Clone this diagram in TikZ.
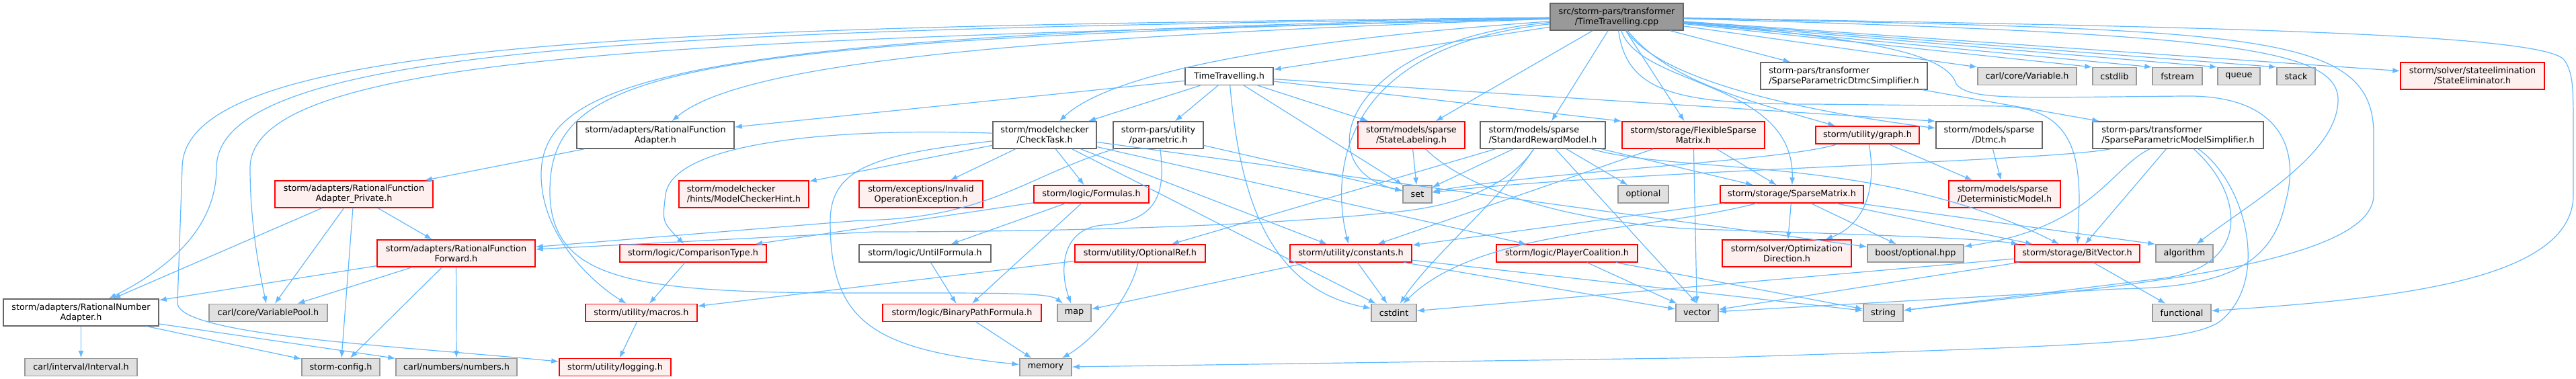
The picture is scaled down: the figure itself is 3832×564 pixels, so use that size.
\documentclass[tikz,border=0pt]{standalone}
\usepackage{fontspec}
\setmainfont{DejaVu Sans}
\usetikzlibrary{arrows.meta}

\definecolor{edgeblue}{HTML}{63B8FF}
\definecolor{truncline}{HTML}{FF0000}
\definecolor{truncfill}{HTML}{FFF0F0}
\definecolor{sysfill}{HTML}{E0E0E0}
\definecolor{sysline}{HTML}{999999}
\definecolor{fileline}{HTML}{666666}
\definecolor{rootfill}{HTML}{999999}

\tikzset{
    box/.style={draw=fileline, fill=white, line width=1.4pt, inner sep=0pt,
        minimum height=26pt, align=center, font=\fontsize{12.8}{15}\selectfont},
    twoline/.style={minimum height=40pt},
    rootbox/.style={box, fill=rootfill},
    redbox/.style={box, draw=truncline, fill=truncfill},
    sysbox/.style={box, draw=sysline, fill=sysfill},
    incl/.style={->, draw=edgeblue, line width=1.2pt},
    >={Latex[length=11pt, width=8pt]},
}

\begin{document}
\begin{tikzpicture}[x=1pt, y=-1pt]
    \useasboundingbox (0, 0) rectangle (3832, 564);

    \node[rootbox, twoline, minimum width=198pt] at (2405, 25) (root) {src/storm-pars/transformer\\/TimeTravelling.cpp};

    \node[box, minimum width=131pt] at (1828.5, 113.5) (tt) {TimeTravelling.h};
    \node[box, twoline, minimum width=248pt, align=left] at (2743, 113) (spds) {storm-pars/transformer\\/SparseParametricDtmcSimplifier.h};
    \node[sysbox, minimum width=147pt] at (3015.5, 113.5) (carlvar) {carl/core/Variable.h};
    \node[sysbox, minimum width=65pt] at (3145.5, 113.5) (cstdlib) {cstdlib};
    \node[sysbox, minimum width=74pt] at (3239, 113.5) (fstream) {fstream};
    \node[sysbox, minimum width=63pt] at (3330.5, 113.5) (queue) {queue};
    \node[sysbox, minimum width=57pt] at (3415.5, 113.5) (stack) {stack};
    \node[redbox, twoline, minimum width=214pt] at (3678, 113) (stelim) {storm/solver/stateelimination\\/StateEliminator.h};

    \node[box, twoline, minimum width=234pt] at (975, 201) (rfa) {storm/adapters/RationalFunction\\Adapter.h};
    \node[box, twoline, minimum width=154pt] at (1554, 201) (checktask) {storm/modelchecker\\/CheckTask.h};
    \node[box, twoline, minimum width=134pt] at (1723, 201) (parametric) {storm-pars/utility\\/parametric.h};
    \node[redbox, twoline, minimum width=159pt] at (2099.5, 201) (statelab) {storm/models/sparse\\/StateLabeling.h};
    \node[box, twoline, minimum width=186pt, align=left] at (2295, 201) (rewmodel) {storm/models/sparse\\/StandardRewardModel.h};
    \node[redbox, twoline, minimum width=212pt] at (2519, 201) (flexmat) {storm/storage/FlexibleSparse\\Matrix.h};
    \node[redbox, minimum width=154pt] at (2778, 201) (graph) {storm/utility/graph.h};
    \node[box, twoline, minimum width=158pt] at (2959, 201) (dtmc) {storm/models/sparse\\/Dtmc.h};
    \node[box, twoline, minimum width=254pt, align=left] at (3240, 201) (spms) {storm-pars/transformer\\/SparseParametricModelSimplifier.h};

    \node[redbox, twoline, minimum width=235pt] at (526.5, 289) (rfapriv) {storm/adapters/RationalFunction\\Adapter\_Private.h};
    \node[redbox, twoline, minimum width=193pt, align=left] at (1106.5, 289) (mchint) {storm/modelchecker\\/hints/ModelCheckerHint.h};
    \node[redbox, twoline, minimum width=184pt] at (1370, 289) (invop) {storm/exceptions/Invalid\\OperationException.h};
    \node[redbox, minimum width=171pt] at (1623.5, 289) (formulas) {storm/logic/Formulas.h};
    \node[sysbox, minimum width=43pt] at (2108.5, 289) (set) {set};
    \node[sysbox, minimum width=75pt] at (2444.5, 289) (optional) {optional};
    \node[redbox, minimum width=213pt] at (2665.5, 289) (sparsemat) {storm/storage/SparseMatrix.h};
    \node[redbox, twoline, minimum width=166pt, align=left] at (2982, 289) (detmodel) {storm/models/sparse\\/DeterministicModel.h};

    \node[redbox, twoline, minimum width=235pt] at (678.5, 377) (rfforward) {storm/adapters/RationalFunction\\Forward.h};
    \node[redbox, minimum width=218pt] at (1031, 377) (comptype) {storm/logic/ComparisonType.h};
    \node[box, minimum width=196pt] at (1376, 377) (untilf) {storm/logic/UntilFormula.h};
    \node[redbox, minimum width=194pt] at (1696, 377) (optref) {storm/utility/OptionalRef.h};
    \node[redbox, minimum width=181pt] at (2009.5, 377) (constants) {storm/utility/constants.h};
    \node[redbox, minimum width=210pt] at (2331, 377) (playercoal) {storm/logic/PlayerCoalition.h};
    \node[redbox, twoline, minimum width=192pt] at (2658, 377) (optdir) {storm/solver/Optimization\\Direction.h};
    \node[sysbox, minimum width=143pt] at (2849.5, 377) (boostopt) {boost/optional.hpp};
    \node[redbox, minimum width=186pt] at (3090, 377) (bitvec) {storm/storage/BitVector.h};
    \node[sysbox, minimum width=85pt] at (3249.5, 377) (algorithm) {algorithm};

    \node[box, twoline, minimum width=231pt] at (120.5, 465) (rnadapter) {storm/adapters/RationalNumber\\Adapter.h};
    \node[sysbox, minimum width=176pt] at (399, 465.5) (varpool) {carl/core/VariablePool.h};
    \node[redbox, minimum width=166pt] at (954, 465.5) (macros) {storm/utility/macros.h};
    \node[redbox, minimum width=236pt] at (1431, 465.5) (binpath) {storm/logic/BinaryPathFormula.h};
    \node[sysbox, minimum width=50pt] at (1598, 465.5) (map) {map};
    \node[sysbox, minimum width=67pt] at (2073.5, 465.5) (cstdint) {cstdint};
    \node[sysbox, minimum width=63pt] at (2524.5, 465.5) (vector) {vector};
    \node[sysbox, minimum width=59pt] at (2801.5, 465.5) (string) {string};
    \node[sysbox, minimum width=87pt] at (3245.5, 465.5) (functional) {functional};

    \node[sysbox, minimum width=167pt] at (120.5, 546.5) (interval) {carl/interval/Interval.h};
    \node[sysbox, minimum width=116pt] at (507, 546.5) (stormcfg) {storm-config.h};
    \node[sysbox, minimum width=180pt] at (679, 546.5) (numbers) {carl/numbers/numbers.h};
    \node[redbox, minimum width=166pt] at (915, 546.5) (logging) {storm/utility/logging.h};
    \node[sysbox, minimum width=77pt] at (1555.5, 546.5) (memory) {memory};

    \draw[incl] (root) -- (tt);
    \draw[incl] (root) .. controls (1500, 55) and (1100, 95) .. (rfa);
    \draw[incl] (root) .. controls (1900, 60) and (1650, 110) .. (checktask);
    \draw[incl] (root) -- (statelab);
    \draw[incl] (root) -- (rewmodel);
    \draw[incl] (root) -- (flexmat);
    \draw[incl] (root) .. controls (2480, 120) and (2600, 150) .. (graph);
    \draw[incl] (root) .. controls (2470, 120) and (2680, 165) .. (dtmc);
    \draw[incl] (root) -- (spds);
    \draw[incl] (root) -- (carlvar.north west);
    \draw[incl] (root) -- (cstdlib.north west);
    \draw[incl] (root) -- (fstream.north west);
    \draw[incl] (root) -- (queue.north west);
    \draw[incl] (root) -- (stack.north west);
    \draw[incl] (root) -- (stelim);
    \draw[incl] (root) .. controls (2000, 60) and (1940, 250) .. (set);
    \draw[incl] (root) .. controls (1990, 70) and (1980, 260) .. (constants);
    \draw[incl] (root) .. controls (2440, 130) and (2670, 120) .. (sparsemat);
    \draw[incl] (root) .. controls (2420, 140) and (2500, 155) .. (2700, 155) -- (2980, 158) .. controls (3075, 162) and (3093, 220) .. (3093, 300) -- (bitvec);
    \draw[incl] (root) .. controls (3300, 50) and (3480, 70) .. (3478, 150) .. controls (3476, 230) and (3350, 300) .. (algorithm);
    \draw[incl] (root) .. controls (3300, 40) and (3790, 50) .. (3815, 90) .. controls (3828, 110) and (3828, 130) .. (3828, 200) -- (3828, 290) .. controls (3828, 420) and (3550, 445) .. (functional);
    \draw[incl] (root) .. controls (3350, 45) and (3531, 45) .. (3531, 200) -- (3531, 290) .. controls (3531, 400) and (3100, 430) .. (string);
    \draw[incl] (root) .. controls (2750, 55) and (2895, 75) .. (2910, 125) .. controls (2930, 150) and (3000, 145) .. (3250, 143) .. controls (3400, 141) and (3420, 230) .. (3400, 300) .. controls (3380, 400) and (3300, 428) .. (3150, 430) -- (vector);
    \draw[incl] (root) .. controls (1000, 40) and (271, 55) .. (271, 250) -- (264, 450) .. controls (262, 500) and (600, 515) .. (logging);
    \draw[incl] (root) .. controls (1050, 45) and (322, 60) .. (322, 250) .. controls (322, 340) and (250, 400) .. (rnadapter);
    \draw[incl] (root) .. controls (1100, 60) and (372, 70) .. (372, 250) .. controls (372, 330) and (385, 400) .. (varpool);
    \draw[incl] (root) .. controls (1050, 50) and (805, 110) .. (805, 260) .. controls (805, 350) and (880, 420) .. (macros);
    \draw[incl] (root) .. controls (1000, 60) and (815, 100) .. (818, 290) .. controls (822, 420) and (950, 436) .. (1280, 436) .. controls (1480, 436) and (1560, 435) .. (map);

    \draw[incl] (tt) -- (rfa);
    \draw[incl] (tt) -- (checktask);
    \draw[incl] (tt) -- (parametric);
    \draw[incl] (tt) -- (statelab);
    \draw[incl] (tt) -- (flexmat.north west);
    \draw[incl] (tt) -- (dtmc.north west);
    \draw[incl] (tt) -- (set);
    \draw[incl] (tt) .. controls (1845, 300) and (1890, 430) .. (cstdint);

    \draw[incl] (checktask) -- (mchint);
    \draw[incl] (checktask) -- (invop);
    \draw[incl] (checktask) -- (formulas);
    \draw[incl] (checktask) .. controls (1250, 190) and (1000, 210) .. (990, 290) .. controls (985, 330) .. (comptype);
    \draw[incl] (checktask) -- (playercoal);
    \draw[incl] (checktask) -- (boostopt);
    \draw[incl] (checktask) -- (constants);
    \draw[incl] (checktask) -- (cstdint);
    \draw[incl] (checktask) .. controls (1300, 230) and (1235, 250) .. (1235, 330) .. controls (1235, 480) and (1300, 520) .. (memory);

    \draw[incl] (parametric) .. controls (1735, 290) and (1720, 330) .. (1640, 335) .. controls (1580, 340) and (1575, 400) .. (map);
    \draw[incl] (parametric) .. controls (1520, 265) and (1470, 325) .. (1280, 328) -- (rfforward);
    \draw[incl] (parametric) -- (set);

    \draw[incl] (rfa) -- (rfapriv);
    \draw[incl] (rfapriv) -- (rnadapter);
    \draw[incl] (rfapriv) -- (varpool);
    \draw[incl] (rfapriv) -- (stormcfg);
    \draw[incl] (rfapriv) -- (rfforward);
    \draw[incl] (rfforward) -- (rnadapter);
    \draw[incl] (rfforward) -- (varpool);
    \draw[incl] (rfforward) -- (stormcfg);
    \draw[incl] (rfforward) -- (numbers);
    \draw[incl] (rnadapter) -- (interval);
    \draw[incl] (rnadapter) -- (stormcfg);
    \draw[incl] (rnadapter) -- (numbers);

    \draw[incl] (formulas) -- (comptype);
    \draw[incl] (formulas) -- (untilf);
    \draw[incl] (formulas) -- (binpath);
    \draw[incl] (untilf) -- (binpath);
    \draw[incl] (binpath) -- (memory);
    \draw[incl] (comptype) -- (macros);
    \draw[incl] (macros) -- (logging);
    \draw[incl] (optref) -- (macros);
    \draw[incl] (optref) .. controls (1680, 450) and (1620, 510) .. (memory);

    \draw[incl] (constants) -- (map);
    \draw[incl] (constants) -- (cstdint);
    \draw[incl] (constants) -- (vector);
    \draw[incl] (constants) -- (string);
    \draw[incl] (playercoal) -- (vector);
    \draw[incl] (playercoal) -- (string);

    \draw[incl] (statelab) -- (set);
    \draw[incl] (statelab) .. controls (2200, 300) and (2400, 340) .. (2560, 342) .. controls (2800, 350) and (2950, 355) .. (bitvec);
    \draw[incl] (rewmodel) -- (set);
    \draw[incl] (rewmodel) -- (optional);
    \draw[incl] (rewmodel) -- (optref);
    \draw[incl] (rewmodel) .. controls (2250, 270) and (2180, 305) .. (2080, 315) .. controls (1900, 335) and (1600, 345) .. (1300, 345) -- (rfforward);
    \draw[incl] (rewmodel) -- (sparsemat);
    \draw[incl] (rewmodel) .. controls (2500, 260) and (2800, 230) .. (bitvec);
    \draw[incl] (rewmodel) .. controls (2230, 300) and (2130, 380) .. (cstdint);
    \draw[incl] (rewmodel) -- (vector.north);
    \draw[incl] (flexmat) -- (sparsemat);
    \draw[incl] (flexmat) -- (vector);
    \draw[incl] (flexmat) -- (constants);
    \draw[incl] (graph) .. controls (2650, 240) and (2300, 255) .. (set);
    \draw[incl] (graph) .. controls (2795, 300) and (2760, 340) .. (optdir);
    \draw[incl] (graph) -- (detmodel);
    \draw[incl] (dtmc) -- (detmodel);

    \draw[incl] (sparsemat) -- (optdir);
    \draw[incl] (sparsemat) -- (boostopt);
    \draw[incl] (sparsemat) -- (bitvec);
    \draw[incl] (sparsemat) -- (algorithm.north west);
    \draw[incl] (sparsemat) -- (constants);
    \draw[incl] (sparsemat) .. controls (2450, 345) and (2200, 340) .. (cstdint);
    \draw[incl] (bitvec) -- (cstdint);
    \draw[incl] (bitvec) -- (vector);
    \draw[incl] (bitvec) -- (functional);

    \draw[incl] (spds) -- (spms);
    \draw[incl] (spms) -- (bitvec);
    \draw[incl] (spms) .. controls (3140, 250) and (3110, 340) .. (boostopt);
    \draw[incl] (spms) .. controls (3050, 240) and (2400, 255) .. (set);
    \draw[incl] (spms) .. controls (3340, 290) and (3350, 400) .. (3210, 415) -- (string);
    \draw[incl] (spms) .. controls (3340, 270) and (3380, 420) .. (3300, 480) .. controls (3250, 510) and (3100, 515) .. (2560, 532) -- (memory);
\end{tikzpicture}
\end{document}
